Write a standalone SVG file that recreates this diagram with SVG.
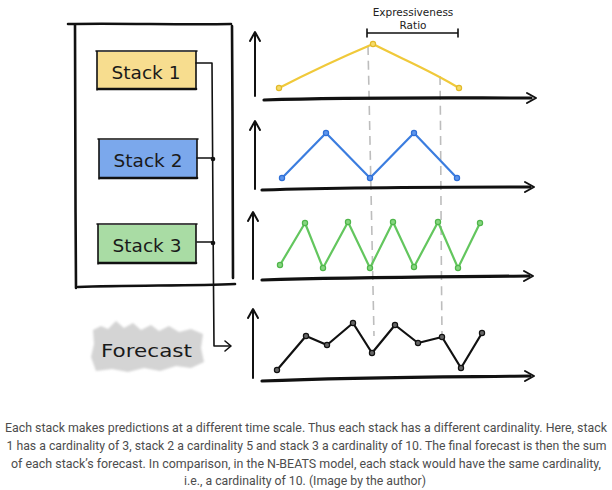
<svg xmlns="http://www.w3.org/2000/svg" width="612" height="490" viewBox="0 0 612 490">
<defs>
<filter id="blur" x="-10%" y="-20%" width="120%" height="140%"><feGaussianBlur stdDeviation="1"/></filter>
</defs>
<style>
.ink{fill:none;stroke:#111;stroke-linecap:round;stroke-linejoin:round}
.thick{stroke-width:2.6}
.thin{stroke-width:1.6}
.axis{fill:none;stroke:#111;stroke-width:2;stroke-linecap:round;stroke-linejoin:round}
.xaxis{fill:none;stroke:#111;stroke-width:3.2;stroke-linecap:round}
.dash{fill:none;stroke:#bdbdbd;stroke-width:1.6;stroke-dasharray:9 6}
.hand{font-family:"DejaVu Sans",sans-serif;fill:#1a1a1a}
.lbl{font-size:18.5px}
.small{font-family:"DejaVu Sans",sans-serif;font-size:10.5px;fill:#222;text-anchor:middle}
.cap{font-family:Roboto,"Liberation Sans",sans-serif;font-size:13.3px;fill:#4d4d4d;text-anchor:middle}
.y{fill:none;stroke:#f0c93a;stroke-width:2.2;stroke-linejoin:round}
.b{fill:none;stroke:#3b7ddf;stroke-width:2.2;stroke-linejoin:round}
.g{fill:none;stroke:#63c65e;stroke-width:2.2;stroke-linejoin:round}
.k{fill:none;stroke:#111;stroke-width:2.2;stroke-linejoin:round}
.py{fill:#f6dc6a;stroke:#e2b92a;stroke-width:1.2}
.pb{fill:#5d95ec;stroke:#2f6fd6;stroke-width:1.2}
.pg{fill:#86d680;stroke:#4fb54a;stroke-width:1.2}
.pk{fill:#666;stroke:#111;stroke-width:1.2}
</style>

<!-- outer container -->
<g id="container">
<path class="ink thick" d="M68,24 C120,23 180,25 231,24"/>
<path class="ink thick" d="M75,25 C76,110 75,200 76,288"/>
<path class="ink thick" d="M232,26 C233,110 232,200 233,278"/>
<path class="ink thick" d="M78,287 C130,285 190,286 235,284"/>
</g>

<g id="stack1">
<rect x="97" y="52" width="99" height="37" fill="#f7dd8f"/>
<path class="ink thin" d="M96,51 H197 M97,51 V90 M196,51 V89"/>
<path class="ink thick" d="M98,89 H196"/>
<text class="hand lbl" x="146" y="79" text-anchor="middle">Stack 1</text>
</g>

<g id="stack2">
<rect x="99" y="140" width="98" height="38" fill="#7ba8ec"/>
<path class="ink thin" d="M98,139 H198 M99,139 V179 M197,140 V178"/>
<path class="ink thick" d="M100,178 H197"/>
<text class="hand lbl" x="148" y="167" text-anchor="middle">Stack 2</text>
</g>

<g id="stack3">
<rect x="98" y="225" width="98" height="38" fill="#a9dca4"/>
<path class="ink thin" d="M97,224 H197 M98,224 V264 M196,225 V263"/>
<path class="ink thick" d="M99,263 H196"/>
<text class="hand lbl" x="147" y="252" text-anchor="middle">Stack 3</text>
</g>

<g id="forecast">
<path d="M93,330 L101,326 L108,329 L116,321 L124,328 L133,323 L141,330 L151,325 L159,331 L169,326 L179,332 L191,329 L203,334 L201,348 L204,362 L191,368 L176,366 L160,371 L144,368 L128,372 L112,369 L96,371 L91,357 L94,344 Z" fill="#d4d4d4" filter="url(#blur)"/>
<text class="hand lbl" x="101" y="357" textLength="91" lengthAdjust="spacingAndGlyphs">Forecast</text>
</g>

<g id="connectors">
<path class="ink thin" d="M196,63 H212 C213,150 213,250 214,346 H230"/>
<path class="ink thin" d="M225,341 L231,346 L225,351"/>
<path class="ink thin" d="M197,158 H213"/>
<circle cx="213" cy="159" r="2.3" fill="#111"/>
<path class="ink thin" d="M197,242 H213"/>
<circle cx="213" cy="243" r="2.3" fill="#111"/>
</g>

<g id="guides">
<path class="dash" d="M368,46 C370,140 372,240 374,336"/>
<path class="dash" d="M440,76 C441,160 441,250 442,334"/>
</g>

<g id="ratio">
<text class="small" x="413" y="16">Expressiveness</text>
<text class="small" x="413" y="29">Ratio</text>
<path class="ink" stroke-width="1.6" d="M367,33 H458 M367,29 V37 M458,29 V37"/>
</g>

<g id="chart1">
<path class="axis" d="M255,96 V33 M250,41 L255,32 L260,41"/>
<path class="xaxis" d="M264,100 C360,97 450,98 531,98"/>
<path class="axis" d="M527,93 L536,98 L527,103"/>
<path class="y" d="M279,88 C310,72 340,58 373,44 C400,58 430,70 459,88"/>
<circle class="py" cx="279" cy="88" r="2.6"/>
<circle class="py" cx="373" cy="44" r="2.6"/>
<circle class="py" cx="459" cy="88" r="2.6"/>
</g>

<g id="chart2">
<path class="axis" d="M255,189 V122 M250,130 L255,121 L260,130"/>
<path class="xaxis" d="M262,190 C360,187 450,187 530,187"/>
<path class="axis" d="M525,182 L534,187 L525,192"/>
<path class="b" d="M282,178 L326,133 L370,178 L414,133 L457,178"/>
<circle class="pb" cx="282" cy="178" r="2.6"/>
<circle class="pb" cx="326" cy="133" r="2.6"/>
<circle class="pb" cx="370" cy="178" r="2.6"/>
<circle class="pb" cx="414" cy="133" r="2.6"/>
<circle class="pb" cx="457" cy="178" r="2.6"/>
</g>

<g id="chart3">
<path class="axis" d="M253,279 V213 M248,221 L253,212 L258,221"/>
<path class="xaxis" d="M262,280 C360,277 450,277 529,276"/>
<path class="axis" d="M524,271 L533,276 L524,281"/>
<path class="g" d="M280,265 L305,223 L323,268 L348,222 L370,268 L393,222 L414,267 L438,222 L458,268 L480,223"/>
<circle class="pg" cx="280" cy="265" r="2.6"/>
<circle class="pg" cx="305" cy="223" r="2.6"/>
<circle class="pg" cx="323" cy="268" r="2.6"/>
<circle class="pg" cx="348" cy="222" r="2.6"/>
<circle class="pg" cx="370" cy="268" r="2.6"/>
<circle class="pg" cx="393" cy="222" r="2.6"/>
<circle class="pg" cx="414" cy="267" r="2.6"/>
<circle class="pg" cx="438" cy="222" r="2.6"/>
<circle class="pg" cx="458" cy="268" r="2.6"/>
<circle class="pg" cx="480" cy="223" r="2.6"/>
</g>

<g id="chart4">
<path class="axis" d="M253,378 V310 M248,318 L253,309 L258,318"/>
<path class="xaxis" d="M262,381 C360,377 450,377 530,376"/>
<path class="axis" d="M525,371 L534,376 L525,381"/>
<path class="k" d="M277,370 L306,336 L327,345 L353,323 L372,353 L395,325 L418,343 L442,337 L461,368 L482,333"/>
<circle class="pk" cx="277" cy="370" r="2.6"/>
<circle class="pk" cx="306" cy="336" r="2.6"/>
<circle class="pk" cx="327" cy="345" r="2.6"/>
<circle class="pk" cx="353" cy="323" r="2.6"/>
<circle class="pk" cx="372" cy="353" r="2.6"/>
<circle class="pk" cx="395" cy="325" r="2.6"/>
<circle class="pk" cx="418" cy="343" r="2.6"/>
<circle class="pk" cx="442" cy="337" r="2.6"/>
<circle class="pk" cx="461" cy="368" r="2.6"/>
<circle class="pk" cx="482" cy="333" r="2.6"/>
</g>

<g id="caption">
<text class="cap" x="306" y="432" textLength="602" lengthAdjust="spacingAndGlyphs">Each stack makes predictions at a different time scale. Thus each stack has a different cardinality. Here, stack</text>
<text class="cap" x="306.5" y="450" textLength="600" lengthAdjust="spacingAndGlyphs">1 has a cardinality of 3, stack 2 a cardinality 5 and stack 3 a cardinality of 10. The final forecast is then the sum</text>
<text class="cap" x="306" y="467.5" textLength="590" lengthAdjust="spacingAndGlyphs">of each stack’s forecast. In comparison, in the N-BEATS model, each stack would have the same cardinality,</text>
<text class="cap" x="305" y="485" textLength="242" lengthAdjust="spacingAndGlyphs">i.e., a cardinality of 10. (Image by the author)</text>
</g>
</svg>
